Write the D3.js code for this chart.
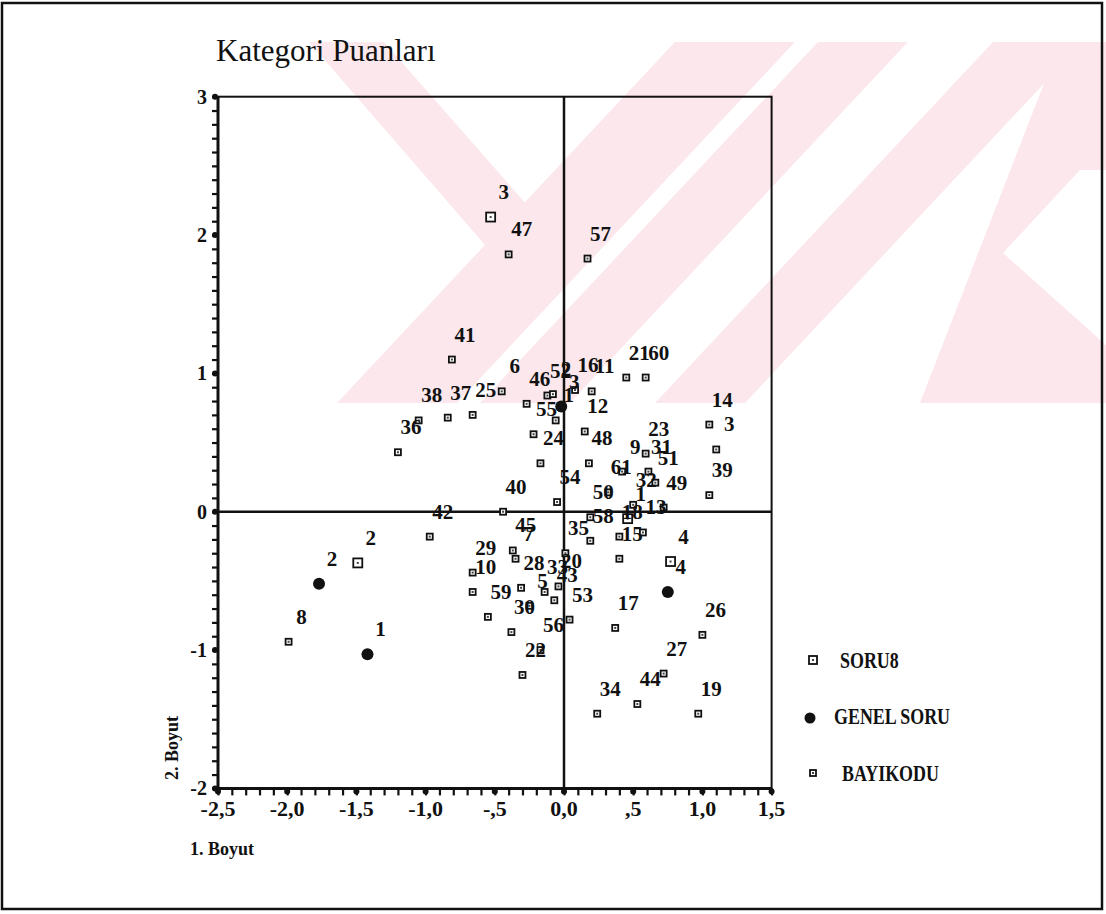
<!DOCTYPE html>
<html>
<head>
<meta charset="utf-8">
<script src="https://cdn.jsdelivr.net/npm/d3@7"></script>
<style>
body { margin: 0; background: #fff; }
svg { display: block; }
text { font-family: "Liberation Serif", "Times New Roman", serif; fill: #111; }
</style>
</head>
<body>
<div id="chart"></div>
<script>
// Kategori puanlari
var soru8Labels = ["1", "2", "3", "4"];
var soru8X = [0.46, -1.49, -0.53, 0.77];
var soru8Y = [-0.05, -0.37, 2.13, -0.36];

var genelLabels = ["1", "2", "3", "4"];
var genelX = [-1.42, -1.77, -0.02, 0.75];
var genelY = [-1.03, -0.52, 0.76, -0.58];

var bayiLabels = ["47", "57", "41", "6", "46", "52", "2", "16", "11", "1",
    "21", "60", "12", "55", "24", "48", "38", "37", "25", "36",
    "14", "3", "23", "9", "31", "51", "61", "32", "49", "39",
    "54", "40", "50", "13", "18", "58", "42", "45", "7", "35",
    "15", "29", "10", "28", "33", "20", "43", "5", "53", "59",
    "30", "56", "22", "17", "26", "27", "44", "34", "19", "8"];
var bayiX = [-0.40, 0.17, -0.81, -0.45, -0.27, -0.12, -0.08, 0.08, 0.20, -0.06,
    0.45, 0.59, 0.15, -0.22, -0.17, 0.18, -1.05, -0.84, -0.66, -1.20,
    1.05, 1.10, 0.59, 0.42, 0.61, 0.66, 0.32, 0.50, 0.72, 1.05,
    -0.05, -0.44, 0.19, 0.57, 0.40, 0.19, -0.97, -0.37, -0.35, 0.01,
    0.40, -0.66, -0.66, -0.31, -0.14, -0.04, -0.07, -0.25, 0.04, -0.55,
    -0.38, -0.17, -0.30, 0.37, 1.00, 0.72, 0.53, 0.24, 0.97, -1.99];
var bayiY = [1.86, 1.83, 1.10, 0.87, 0.78, 0.84, 0.85, 0.88, 0.87, 0.66,
    0.97, 0.97, 0.58, 0.56, 0.35, 0.35, 0.66, 0.68, 0.70, 0.43,
    0.63, 0.45, 0.42, 0.29, 0.29, 0.21, 0.14, 0.05, 0.03, 0.12,
    0.07, 0.00, -0.04, -0.15, -0.18, -0.21, -0.18, -0.28, -0.34, -0.30,
    -0.34, -0.44, -0.58, -0.55, -0.58, -0.54, -0.64, -0.68, -0.78, -0.76,
    -0.87, -1.00, -1.18, -0.84, -0.89, -1.17, -1.39, -1.46, -1.46, -0.94];

var seriesNames = ["SORU8", "GENEL SORU", "BAYIKODU"];

var xMajor = [-2.5, -2.0, -1.5, -1.0, -0.5, 0.0, 0.5, 1.0, 1.5];
var xMajorLabels = ["-2,5", "-2,0", "-1,5", "-1,0", "-,5", "0,0", ",5", "1,0", "1,5"];
var yMajor = [-2, -1, 0, 1, 2, 3];
var yMajorLabels = ["-2", "-1", "0", "1", "2", "3"];

var W = 1106, H = 914;
var plot = {left: 218, right: 771.6, top: 96.7, bottom: 788.4};

var svg = d3.select('#chart').append('svg')
    .attr('width', W)
    .attr('height', H);

// watermark: pale red slanted letter strokes behind the scan
var pink = '#fce8ec';
var wmTop = 42, wmBot = 403, k = 0.936;
svg.append('clipPath').attr('id', 'wmclip')
    .append('rect').attr('x', 0).attr('y', wmTop).attr('width', W).attr('height', wmBot - wmTop);
var wm = svg.append('g').attr('clip-path', 'url(#wmclip)');
function slash(x0, x1) {
    // "/" stroke, x0..x1 measured along the bottom edge
    var d = k * (wmBot - wmTop);
    return [[x0, wmBot], [x1, wmBot], [x1 + d, wmTop], [x0 + d, wmTop]];
}
var strokes = [
    slash(337, 457),
    slash(480, 570),
    slash(655, 745),
    [[309, wmTop], [384, wmTop], [527, 205], [485, 245]],
    [[920, wmBot], [1106, wmBot], [1106, 345], [1003, 253], [1080, 170], [1106, 170], [1106, wmTop], [1060, wmTop]]
];
strokes.forEach(function(p) {
    wm.append('polygon').attr('points', p.join(' ')).style('fill', pink);
});

// page border
svg.append('rect')
    .attr('x', 2).attr('y', 3)
    .attr('width', 1100).attr('height', 906)
    .style('fill', 'none')
    .style('stroke', '#111')
    .style('stroke-width', 2.5);

var x = d3.scaleLinear().domain([-2.5, 1.5]).range([plot.left, plot.right]);
var y = d3.scaleLinear().domain([-2, 3]).range([plot.bottom, plot.top]);

var g = svg.append('g');

// frame
g.append('rect')
    .attr('x', plot.left).attr('y', plot.top)
    .attr('width', plot.right - plot.left)
    .attr('height', plot.bottom - plot.top)
    .style('fill', 'none')
    .style('stroke', '#111')
    .style('stroke-width', 2);
g.append('line')
    .attr('x1', plot.left).attr('x2', plot.left)
    .attr('y1', plot.top).attr('y2', plot.bottom)
    .style('stroke', '#111').style('stroke-width', 3);
g.append('line')
    .attr('x1', plot.left).attr('x2', plot.right)
    .attr('y1', plot.bottom).attr('y2', plot.bottom)
    .style('stroke', '#111').style('stroke-width', 3);

// zero reference lines
g.append('line')
    .attr('x1', x(0)).attr('x2', x(0))
    .attr('y1', plot.top).attr('y2', plot.bottom)
    .style('stroke', '#111').style('stroke-width', 2.5);
g.append('line')
    .attr('x1', plot.left).attr('x2', plot.right)
    .attr('y1', y(0)).attr('y2', y(0))
    .style('stroke', '#111').style('stroke-width', 2.5);

// axes: minor ticks every 0.1, majors get a dot
var xAxis = d3.axisBottom(x)
    .tickValues(d3.range(-25, 16).map(function(d) { return d / 10; }))
    .tickSize(7)
    .tickFormat('');
g.append('g')
    .attr('transform', 'translate(0,' + plot.bottom + ')')
    .call(xAxis)
    .call(function(s) {
        s.select('.domain').remove();
        s.selectAll('line').style('stroke', '#111').style('stroke-width', 2.2);
    });

var yAxis = d3.axisLeft(y)
    .tickValues(d3.range(-20, 31).map(function(d) { return d / 10; }))
    .tickSize(6)
    .tickFormat('');
g.append('g')
    .attr('transform', 'translate(' + plot.left + ',0)')
    .call(yAxis)
    .call(function(s) {
        s.select('.domain').remove();
        s.selectAll('line').style('stroke', '#111').style('stroke-width', 2.2);
    });

g.selectAll('circle.xdot')
    .data(xMajor)
    .enter().append('circle')
    .attr('class', 'xdot')
    .attr('cx', function(d) { return x(d); })
    .attr('cy', plot.bottom + 3)
    .attr('r', 3)
    .style('fill', '#111');
g.selectAll('circle.ydot')
    .data(yMajor)
    .enter().append('circle')
    .attr('class', 'ydot')
    .attr('cx', plot.left - 3)
    .attr('cy', function(d) { return y(d); })
    .attr('r', 3)
    .style('fill', '#111');

g.selectAll('text.xlab')
    .data(xMajor)
    .enter().append('text')
    .attr('class', 'xlab')
    .attr('x', function(d) { return x(d); })
    .attr('y', plot.bottom + 28)
    .attr('text-anchor', 'middle')
    .style('font-size', '22px')
    .style('font-weight', 'bold')
    .text(function(d, i) { return xMajorLabels[i]; });

g.selectAll('text.ylab')
    .data(yMajor)
    .enter().append('text')
    .attr('class', 'ylab')
    .attr('x', plot.left - 11)
    .attr('y', function(d) { return y(d) + 7; })
    .attr('text-anchor', 'end')
    .style('font-size', '20px')
    .style('font-weight', 'bold')
    .text(function(d, i) { return yMajorLabels[i]; });

// titles
svg.append('text')
    .attr('x', 216).attr('y', 61)
    .style('font-size', '31px')
    .text('Kategori Puanları');
svg.append('text')
    .attr('x', 190).attr('y', 855)
    .style('font-size', '18px')
    .style('font-weight', 'bold')
    .text('1. Boyut');
svg.append('text')
    .attr('transform', 'translate(178,748) rotate(-90)')
    .attr('text-anchor', 'middle')
    .style('font-size', '18px')
    .style('font-weight', 'bold')
    .text('2. Boyut');

// points
function pts(labels, xs, ys) {
    return labels.map(function(l, i) { return {label: l, x: xs[i], y: ys[i]}; });
}
var bayi = pts(bayiLabels, bayiX, bayiY);
var soru8 = pts(soru8Labels, soru8X, soru8Y);
var genel = pts(genelLabels, genelX, genelY);

function smallSquare(sel, s) {
    sel.append('rect')
        .attr('x', -s / 2).attr('y', -s / 2)
        .attr('width', s).attr('height', s)
        .style('fill', '#fff')
        .style('stroke', '#111')
        .style('stroke-width', 1.8);
    sel.append('rect')
        .attr('x', -1).attr('y', -1)
        .attr('width', 2).attr('height', 2)
        .style('fill', '#444');
}

var mb = g.selectAll('g.bayi')
    .data(bayi)
    .enter().append('g')
    .attr('class', 'bayi')
    .attr('transform', function(d) { return 'translate(' + x(d.x) + ',' + y(d.y) + ')'; });
smallSquare(mb, 6);

var ms = g.selectAll('g.soru8')
    .data(soru8)
    .enter().append('g')
    .attr('class', 'soru8')
    .attr('transform', function(d) { return 'translate(' + x(d.x) + ',' + y(d.y) + ')'; });
smallSquare(ms, 9);

g.selectAll('circle.genel')
    .data(genel)
    .enter().append('circle')
    .attr('class', 'genel')
    .attr('cx', function(d) { return x(d.x); })
    .attr('cy', function(d) { return y(d.y); })
    .attr('r', 6)
    .style('fill', '#111');

// point labels sit above-right of their marker
var all = bayi.concat(soru8, genel);
g.selectAll('text.plab')
    .data(all)
    .enter().append('text')
    .attr('class', 'plab')
    .attr('x', function(d) { return x(d.x) + 13; })
    .attr('y', function(d) { return y(d.y) - 18; })
    .attr('text-anchor', 'middle')
    .style('font-size', '21px')
    .style('font-weight', 'bold')
    .text(function(d) { return d.label; });

// legend
var leg = svg.append('g').attr('transform', 'translate(813,660)');
var legY = [0, 56, 113];
var l0 = leg.append('g').attr('transform', 'translate(0,' + legY[0] + ')');
smallSquare(l0, 8);
leg.append('circle').attr('cx', -3).attr('cy', legY[1] + 2).attr('r', 5.5).style('fill', '#111');
var l2 = leg.append('g').attr('transform', 'translate(0,' + legY[2] + ')');
smallSquare(l2, 6);
var legX = [27, 21, 29];
leg.selectAll('text.leg')
    .data(seriesNames)
    .enter().append('text')
    .attr('class', 'leg')
    .attr('transform', function(d, i) { return 'translate(' + legX[i] + ',' + (legY[i] + 8) + ') scale(0.78,1)'; })
    .style('font-size', '23px')
    .style('font-weight', 'bold')
    .text(function(d) { return d; });
</script>
</body>
</html>
